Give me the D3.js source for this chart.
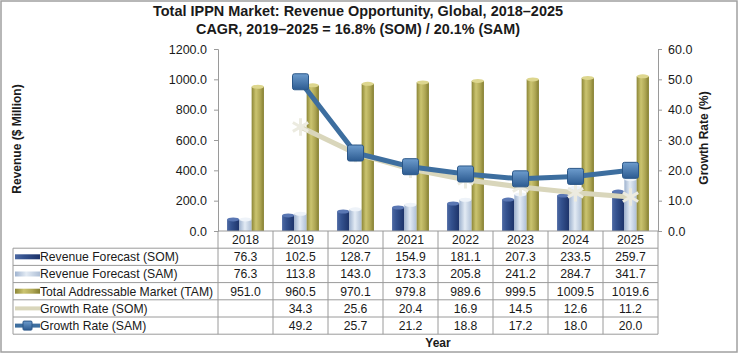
<!DOCTYPE html>
<html>
<head>
<meta charset="utf-8">
<script src="https://cdn.jsdelivr.net/npm/d3@7"></script>
<style>
  body { margin: 0; background: #fff; }
  svg text { font-family: "Liberation Sans", Arial, sans-serif; fill: #1a1a1a; }
</style>
</head>
<body>
<div id="chart"></div>
<script>
const years = ['2018', '2019', '2020', '2021', '2022', '2023', '2024', '2025'];
const revenueSom = [76.3, 102.5, 128.7, 154.9, 181.1, 207.3, 233.5, 259.7];
const revenueSam = [76.3, 113.8, 143.0, 173.3, 205.8, 241.2, 284.7, 341.7];
const tamValues = [951.0, 960.5, 970.1, 979.8, 989.6, 999.5, 1009.5, 1019.6];
const growthSom = [null, 34.3, 25.6, 20.4, 16.9, 14.5, 12.6, 11.2];
const growthSam = [null, 49.2, 25.7, 21.2, 18.8, 17.2, 18.0, 20.0];
const leftTicks = [0, 200, 400, 600, 800, 1000, 1200];
const rightTicks = [0, 10, 20, 30, 40, 50, 60];
const rowNames = ['Revenue Forecast (SOM)', 'Revenue Forecast (SAM)', 'Total Addressable Market (TAM)', 'Growth Rate (SOM)', 'Growth Rate (SAM)'];

const W = 739, H = 354;
const plot = { left: 218, right: 658, top: 49, bottom: 231 };
const table = { left: 13, rowH: 17.2 };
const fs = 12.2;

const svg = d3.select('#chart').append('svg')
    .attr('width', W).attr('height', H);

// gradients for the "cylinder" look
const defs = svg.append('defs');
function grad(id, stops) {
    const g = defs.append('linearGradient').attr('id', id)
        .attr('x1', '0%').attr('x2', '100%').attr('y1', '0%').attr('y2', '0%');
    stops.forEach(s => g.append('stop').attr('offset', s[0]).attr('stop-color', s[1]));
}
grad('gSom', [['0%', '#4d69a3'], ['35%', '#34528f'], ['100%', '#1d3369']]);
grad('gSam', [['0%', '#9fb3cf'], ['45%', '#e3ebf4'], ['100%', '#aebfd6']]);
grad('gTam', [['0%', '#8c8636'], ['35%', '#cbc470'], ['70%', '#aea654'], ['100%', '#847e30']]);
const gq = defs.append('linearGradient').attr('id', 'gSq')
    .attr('x1', '0%').attr('x2', '0%').attr('y1', '0%').attr('y2', '100%');
gq.append('stop').attr('offset', '0%').attr('stop-color', '#6d9ccd');
gq.append('stop').attr('offset', '100%').attr('stop-color', '#2c5b91');

// outer frame
svg.append('rect').attr('x', 1).attr('y', 1).attr('width', W - 3).attr('height', H - 3)
    .attr('fill', 'none').attr('stroke', '#a0a0a0').attr('stroke-width', 1.5);

// title
svg.append('text').attr('x', 358).attr('y', 16).attr('text-anchor', 'middle')
    .attr('font-size', 14.5).attr('font-weight', 'bold')
    .attr('textLength', 410).attr('lengthAdjust', 'spacingAndGlyphs')
    .text('Total IPPN Market: Revenue Opportunity, Global, 2018–2025');
svg.append('text').attr('x', 358).attr('y', 34).attr('text-anchor', 'middle')
    .attr('font-size', 14.5).attr('font-weight', 'bold')
    .attr('textLength', 324).attr('lengthAdjust', 'spacingAndGlyphs')
    .text('CAGR, 2019–2025 = 16.8% (SOM) / 20.1% (SAM)');

const x = d3.scaleBand().domain(years).range([plot.left, plot.right]);
const inner = d3.scaleBand().domain(['som', 'sam', 'tam'])
    .range([x.bandwidth() * 0.165, x.bandwidth() * 0.835]);
const yL = d3.scaleLinear().domain([0, 1200]).range([plot.bottom, plot.top]);
const yR = d3.scaleLinear().domain([0, 60]).range([plot.bottom, plot.top]);

// axes
const axL = svg.append('g').attr('transform', `translate(${plot.left},0)`)
    .call(d3.axisLeft(yL).tickValues(leftTicks).tickSize(4).tickPadding(7).tickFormat(d => d.toFixed(1)));
const axR = svg.append('g').attr('transform', `translate(${plot.right},0)`)
    .call(d3.axisRight(yR).tickValues(rightTicks).tickSize(4).tickPadding(6).tickFormat(d => d.toFixed(1)));
[axL, axR].forEach(a => {
    a.select('.domain').attr('stroke', '#9a9a9a');
    a.selectAll('.tick line').attr('stroke', '#9a9a9a');
    a.selectAll('.tick text').attr('font-size', 12.5).attr('fill', '#1a1a1a')
        .attr('font-family', '"Liberation Sans", Arial, sans-serif');
});

svg.append('text').attr('transform', 'translate(21,139) rotate(-90)')
    .attr('text-anchor', 'middle').attr('font-size', 12).attr('font-weight', 'bold')
    .text('Revenue ($ Million)');
svg.append('text').attr('transform', 'translate(708,138) rotate(-90)')
    .attr('text-anchor', 'middle').attr('font-size', 12).attr('font-weight', 'bold')
    .text('Growth Rate (%)');

// bars
const series = [
    { key: 'som', vals: revenueSom, fill: 'url(#gSom)', cap: '#5a77b3' },
    { key: 'sam', vals: revenueSam, fill: 'url(#gSam)', cap: '#eef3f9' },
    { key: 'tam', vals: tamValues, fill: 'url(#gTam)', cap: '#ddd68e' }
];
series.forEach(s => {
    const g = svg.append('g');
    g.selectAll('rect').data(s.vals).enter().append('rect')
        .attr('x', (d, i) => x(years[i]) + inner(s.key))
        .attr('y', d => yL(d))
        .attr('width', inner.bandwidth())
        .attr('height', d => yL(0) - yL(d))
        .attr('fill', s.fill);
    g.selectAll('ellipse').data(s.vals).enter().append('ellipse')
        .attr('cx', (d, i) => x(years[i]) + inner(s.key) + inner.bandwidth() / 2)
        .attr('cy', d => yL(d))
        .attr('rx', inner.bandwidth() / 2)
        .attr('ry', 2)
        .attr('fill', s.cap);
});

// growth lines
const idx = years.map((d, i) => i).filter(i => growthSom[i] !== null);
const cx = i => x(years[i]) + x.bandwidth() / 2;

const lineSom = d3.line().x(i => cx(i)).y(i => yR(growthSom[i]));
svg.append('path').attr('d', lineSom(idx)).attr('fill', 'none')
    .attr('stroke', '#d9d6bb').attr('stroke-width', 5);
svg.append('g').selectAll('path').data(idx).enter().append('path')
    .attr('transform', i => `translate(${cx(i)},${yR(growthSom[i])})`)
    .attr('d', d3.symbol(d3.symbolAsterisk, 220))
    .attr('fill', 'none').attr('stroke', '#ecebe0').attr('stroke-width', 3);

const idxSam = years.map((d, i) => i).filter(i => growthSam[i] !== null);
const lineSam = d3.line().x(i => cx(i)).y(i => yR(growthSam[i]));
svg.append('path').attr('d', lineSam(idxSam)).attr('fill', 'none')
    .attr('stroke', '#3d6e9f').attr('stroke-width', 5);
svg.append('g').selectAll('rect').data(idxSam).enter().append('rect')
    .attr('x', i => cx(i) - 8).attr('y', i => yR(growthSam[i]) - 8)
    .attr('width', 16).attr('height', 16).attr('rx', 2)
    .attr('fill', 'url(#gSq)').attr('stroke', '#2b5788').attr('stroke-width', 1);

// data table
const tableTop = plot.bottom + table.rowH;
const tableBottom = tableTop + table.rowH * rowNames.length;
const grid = svg.append('g').attr('stroke', '#9a9a9a').attr('stroke-width', 1);
grid.append('line').attr('x1', plot.left).attr('x2', plot.right)
    .attr('y1', plot.bottom).attr('y2', plot.bottom);
d3.range(rowNames.length + 1).forEach(r => {
    grid.append('line').attr('x1', table.left).attr('x2', plot.right)
        .attr('y1', tableTop + r * table.rowH).attr('y2', tableTop + r * table.rowH);
});
grid.append('line').attr('x1', table.left).attr('x2', table.left)
    .attr('y1', tableTop).attr('y2', tableBottom);
years.concat(['end']).forEach((y, i) => {
    const xx = i < years.length ? x(y) : plot.right;
    grid.append('line').attr('x1', xx).attr('x2', xx)
        .attr('y1', plot.bottom).attr('y2', tableBottom);
});

svg.append('g').selectAll('text').data(years).enter().append('text')
    .attr('x', d => x(d) + x.bandwidth() / 2).attr('y', plot.bottom + 13)
    .attr('text-anchor', 'middle').attr('font-size', fs).text(d => d);

const rows = [revenueSom, revenueSam, tamValues, growthSom, growthSam];
rows.forEach((vals, r) => {
    const ty = tableTop + r * table.rowH + 13;
    svg.append('text').attr('x', 40).attr('y', ty).attr('font-size', fs).text(rowNames[r]);
    svg.append('g').selectAll('text').data(vals).enter().append('text')
        .attr('x', (d, i) => x(years[i]) + x.bandwidth() / 2).attr('y', ty)
        .attr('text-anchor', 'middle').attr('font-size', fs)
        .text(d => d === null ? '' : d.toFixed(1));
});

// legend keys in the table
const keyY = r => tableTop + r * table.rowH + table.rowH / 2;
['url(#gSom)', 'url(#gSam)', 'url(#gTam)'].forEach((f, r) => {
    svg.append('rect').attr('x', 15).attr('y', keyY(r) - 2.5).attr('width', 25).attr('height', 5).attr('fill', f);
});
svg.append('line').attr('x1', 15).attr('x2', 40).attr('y1', keyY(3)).attr('y2', keyY(3))
    .attr('stroke', '#d9d6bb').attr('stroke-width', 4);
svg.append('line').attr('x1', 15).attr('x2', 40).attr('y1', keyY(4)).attr('y2', keyY(4))
    .attr('stroke', '#3d6e9f').attr('stroke-width', 4);
svg.append('rect').attr('x', 23).attr('y', keyY(4) - 4.5).attr('width', 9).attr('height', 9).attr('rx', 1)
    .attr('fill', 'url(#gSq)').attr('stroke', '#2b5788');

svg.append('text').attr('x', (plot.left + plot.right) / 2).attr('y', 347)
    .attr('text-anchor', 'middle').attr('font-size', 12).attr('font-weight', 'bold').text('Year');
</script>
</body>
</html>
